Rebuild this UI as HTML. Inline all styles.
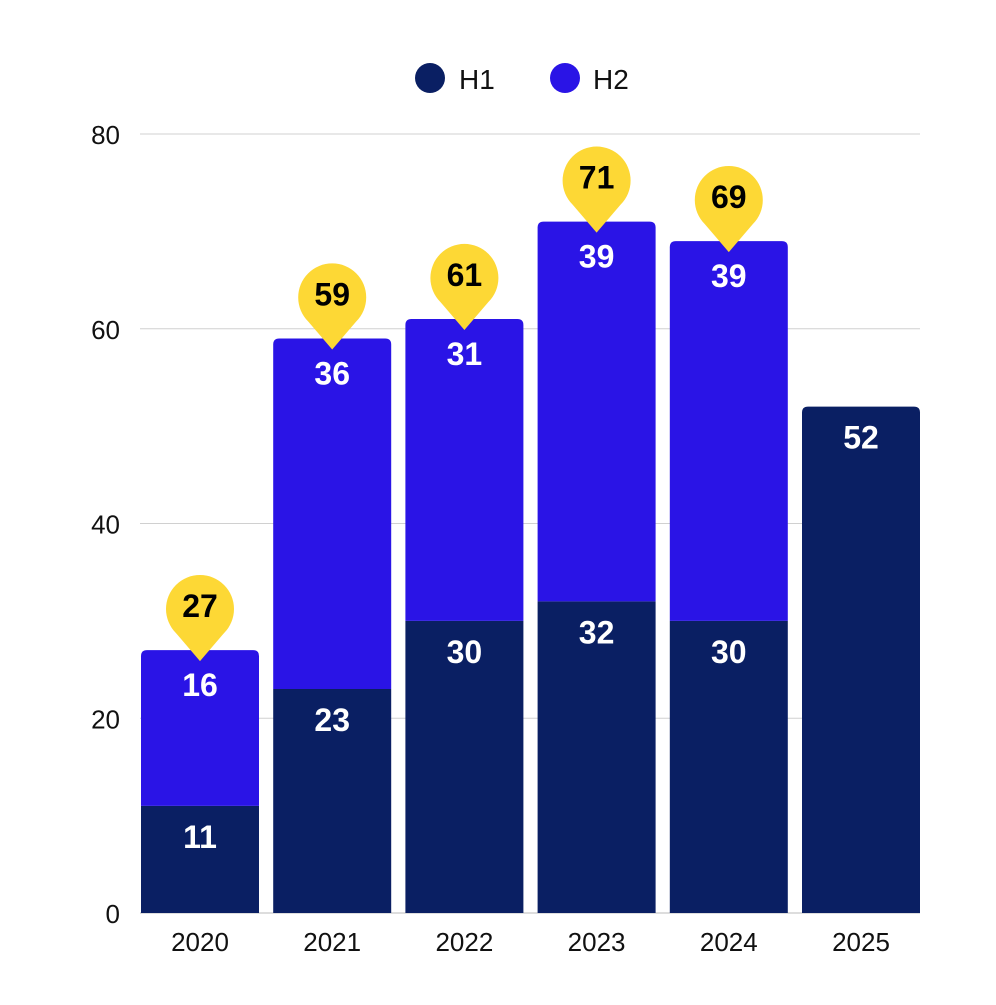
<!DOCTYPE html>
<html><head><meta charset="utf-8"><style>
body{margin:0;background:#fff}
svg text{font-family:"Liberation Sans",sans-serif}
</style></head><body>
<svg id="c" width="996" height="1000">
<g>
<circle cx="430" cy="78" r="15" fill="#0a1f63"/>
<text x="459" y="89" font-size="28" fill="#111">H1</text>
<circle cx="565" cy="78" r="15" fill="#2a14e6"/>
<text x="593" y="89" font-size="28" fill="#111">H2</text>
</g>
</svg>
<script>
const categories=["2020","2021","2022","2023","2024","2025"];
const h1=[11,23,30,32,30,52];
const h2=[16,36,31,39,39,0];
const yTicks=[0,20,40,60,80];
const svg=document.getElementById('c');
const NS='http://www.w3.org/2000/svg';
const y0=913,pxPer=779/80,x0=141,step=132.2,bw=118;
const y=v=>y0-v*pxPer;
const x=i=>x0+i*step;
function el(t,a,txt){const e=document.createElementNS(NS,t);for(const k in a)e.setAttribute(k,a[k]);if(txt!==undefined)e.textContent=txt;svg.appendChild(e);return e;}
yTicks.forEach(t=>{
 const g=el('line',{x1:140,x2:920,y1:y(t),y2:y(t),stroke:t===0?'#bbb':'#d0d0d0','stroke-width':1});
 
 
 const l=el('text',{x:120,y:y(t)+10,'font-size':26,'text-anchor':'end',fill:'#111'},t);
 
 
});
function bar(xl,top,bot,fill,round){
 const r=round?6:0,w=bw;
 const d=`M${xl},${bot}V${top+r}Q${xl},${top} ${xl+r},${top}H${xl+w-r}Q${xl+w},${top} ${xl+w},${top+r}V${bot}Z`;
 return el('path',{d,fill});
}
categories.forEach((c,i)=>{
 const xl=x(i),cx=xl+bw/2,tot=h1[i]+h2[i];
 const b1=bar(xl,y(h1[i]),y0,'#0a1f63',h2[i]===0);
 
 
 const t1=el('text',{x:cx,y:y(h1[i])+42,'font-size':32,'font-weight':'bold','text-anchor':'middle',fill:'#fff'},h1[i]);
 
 
 if(h2[i]>0){
  const b2=bar(xl,y(tot),y(h1[i]),'#2a14e6',true);
  
  
  const t2=el('text',{x:cx,y:y(tot)+46,'font-size':32,'font-weight':'bold','text-anchor':'middle',fill:'#fff'},h2[i]);
  
  
  const tip=y(tot)+11,cy=tip-52,r=34;
  const pin=el('path',{d:`M${cx},${tip}L${cx-24},${cy+24}A${r},${r} 0 1 1 ${cx+24},${cy+24}Z`,fill:'#fdd835'});
  
  
  const tt=el('text',{x:cx,y:cy+8,'font-size':32,'font-weight':'bold','text-anchor':'middle',fill:'#000'},tot);
  
  
 }
 const xt=el('text',{x:cx,y:951,'font-size':26,'text-anchor':'middle',fill:'#111'},c);
 
 
});
</script>
</body></html>
